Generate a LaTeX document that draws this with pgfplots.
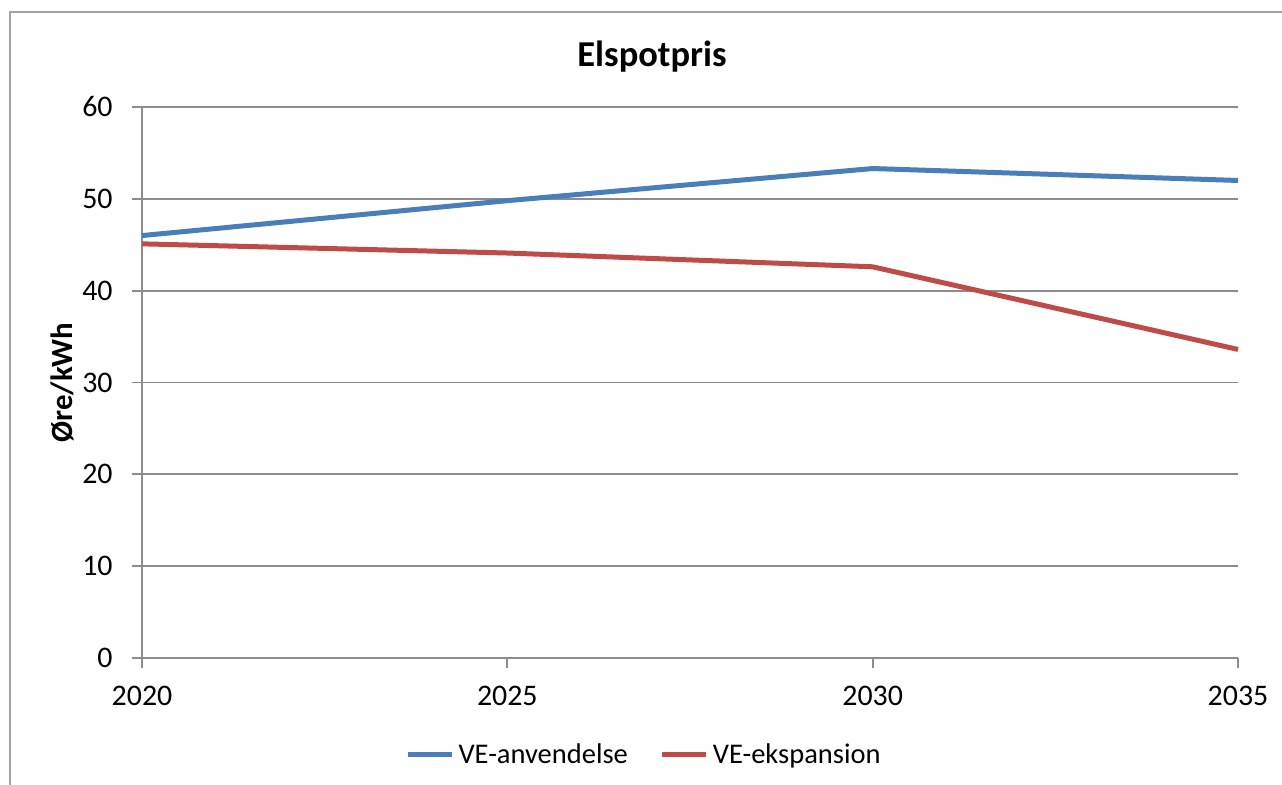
\documentclass[border=0pt]{standalone}
\usepackage{pgfplots}
\pgfplotsset{compat=1.18}
\usepackage{fontspec}
\setmainfont{Carlito}
\definecolor{lineblue}{HTML}{4A7EBB}
\definecolor{linered}{HTML}{BE4B48}
\definecolor{gridgray}{HTML}{8C8C8C}
\begin{document}
\begin{tikzpicture}
\path[use as bounding box] (0bp,0bp) rectangle (641bp,392.5bp);
% outer chart frame (cut off at the right and bottom)
\draw[gridgray!80, line width=1bp] (5bp,0bp) -- (5bp,386.5bp) -- (641bp,386.5bp);
\begin{axis}[
  at={(71bp,63.5bp)}, anchor=south west,
  scale only axis, width=548bp, height=275.5bp,
  xmin=2020, xmax=2035, ymin=0, ymax=60,
  xtick={2020,2025,2030,2035}, ytick={0,10,...,60},
  axis x line*=bottom, axis y line*=left,
  axis line style={gridgray, line width=0.9bp, -},
  ymajorgrids, grid style={gridgray, line width=0.9bp},
  tick style={gridgray, line width=0.9bp},
  tick align=outside, major tick length=5bp,
  /pgf/number format/assume math mode=true,
  /pgf/number format/1000 sep={},
  ticklabel style={font=\fontsize{15}{17}\selectfont, text=black},
  xticklabel style={yshift=-5.5bp},
  yticklabel style={xshift=-6.2bp},
  ylabel={Øre/kWh},
  ylabel style={at={(axis description cs:-0.073,0.5)}, anchor=center,
    font=\bfseries\fontsize{15.5}{18}\selectfont},
  legend columns=2,
  legend style={at={(axis description cs:0.459,-0.176)}, anchor=center,
    draw=none, fill=none, font=\fontsize{14.3}{16}\selectfont,
    /tikz/every even column/.append style={column sep=14bp}},
  legend image code/.code={\draw[#1, line width=2.5bp] (0bp,0bp) -- (22bp,0bp);},
  clip=false,
]
\addplot[lineblue, line width=2.5bp, mark=none] coordinates {
  (2020,46.0) (2025,49.8) (2030,53.3) (2035,52.0)};
\addlegendentry{VE-anvendelse}
\addplot[linered, line width=2.5bp, mark=none] coordinates {
  (2020,45.1) (2025,44.1) (2030,42.6) (2035,33.6)};
\addlegendentry{VE-ekspansion}
\end{axis}
\node[font=\bfseries\fontsize{18.3}{21}\selectfont] at (326bp,364bp) {Elspotpris};
\end{tikzpicture}
\end{document}
